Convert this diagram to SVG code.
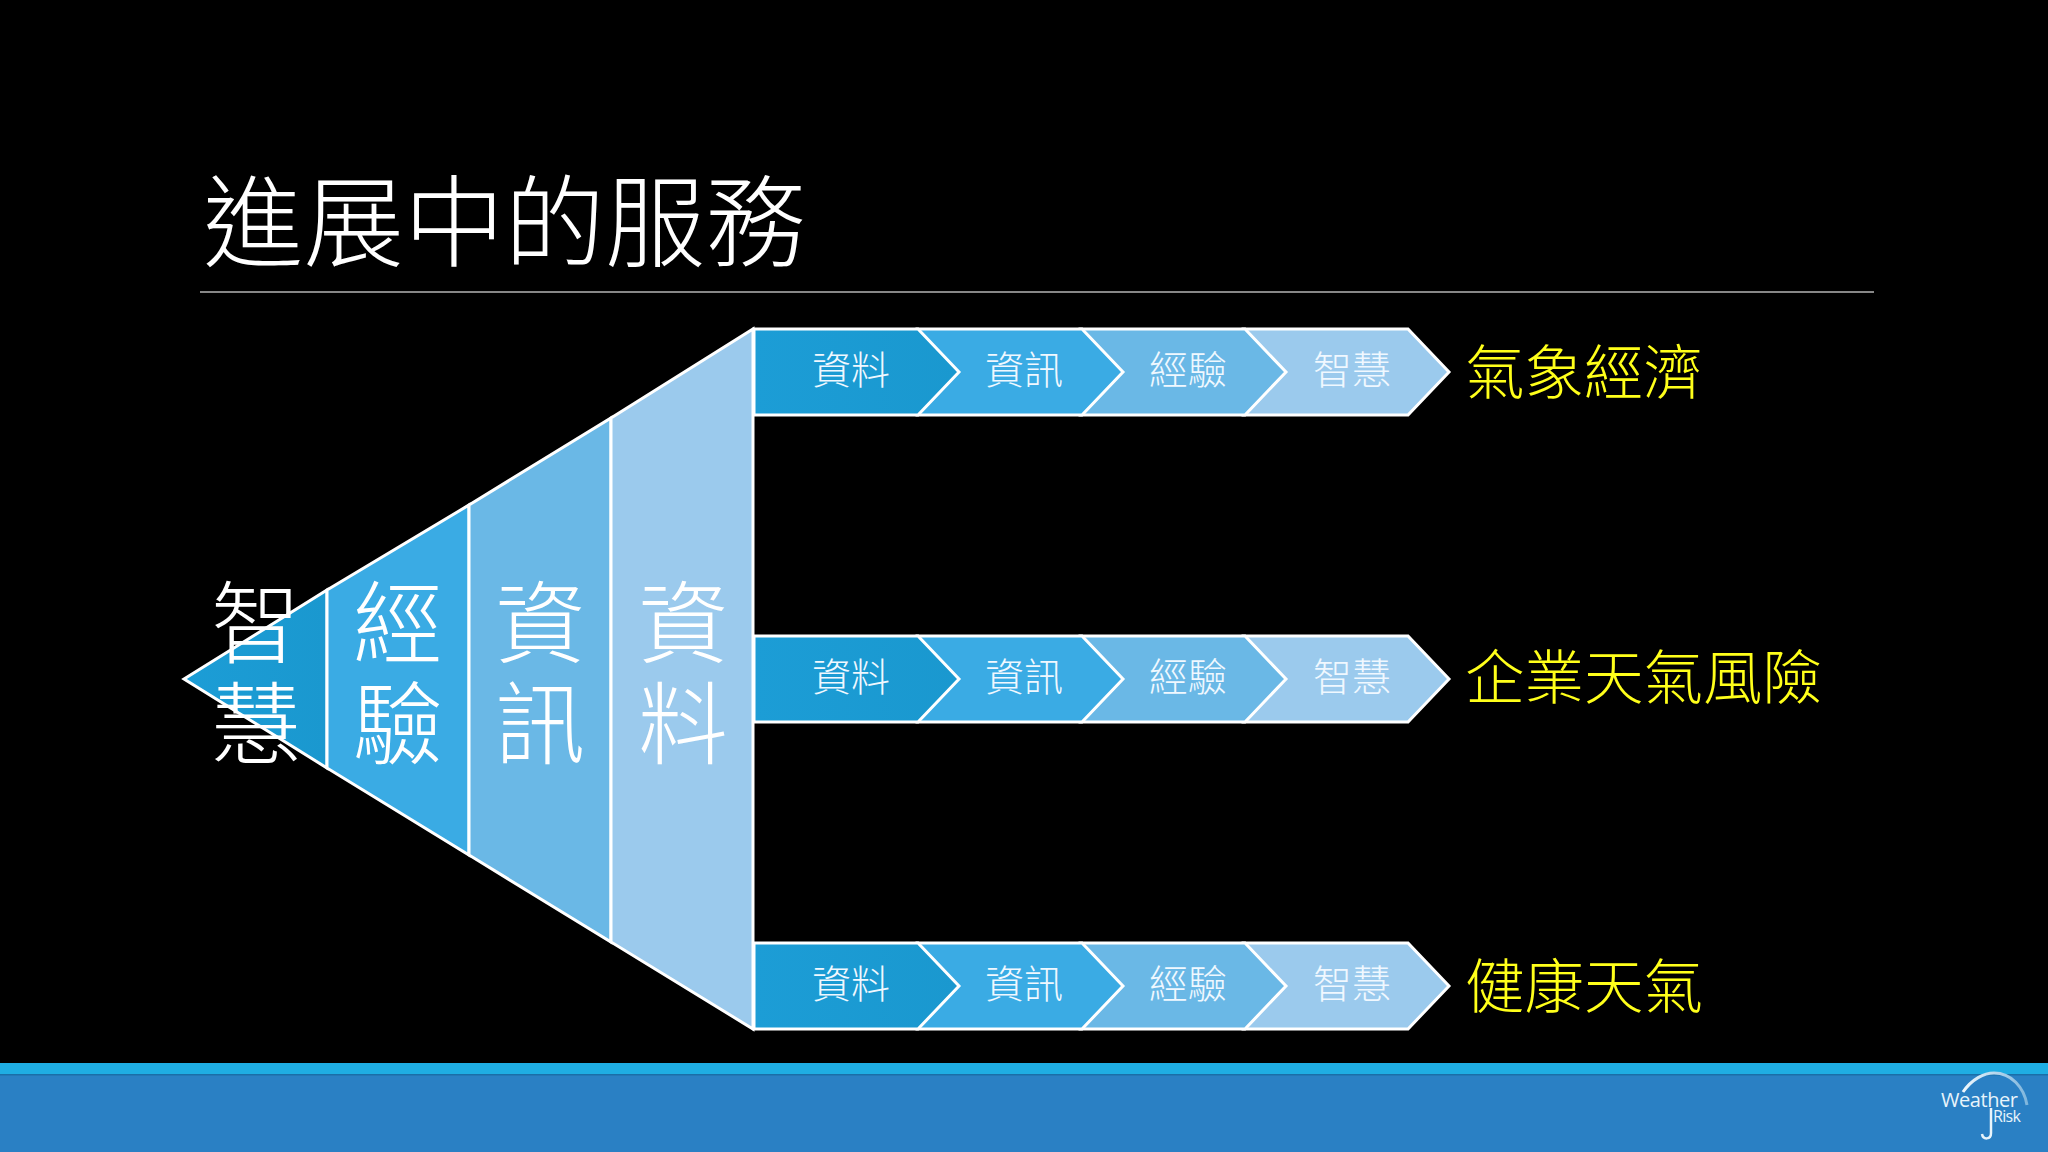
<svg xmlns="http://www.w3.org/2000/svg" width="2048" height="1152" viewBox="0 0 2048 1152">
<defs>
<style>
text{font-family:"Noto Sans CJK TC","Noto Sans CJK SC","Liberation Sans",sans-serif;font-weight:300}
.s{stroke:#fff;stroke-width:3;stroke-linejoin:miter}
.c1{fill:url(#g1)}.c2{fill:#3aabe4}.c3{fill:#6ab8e6}.c4{fill:#9bcaed}
.big{fill:#fff;font-size:90px;text-anchor:middle}
.lab{fill:#f0f8ff;font-size:39px;text-anchor:middle}
.res{fill:#ffff1a;font-size:59.500px}
.lg{fill:#e8f4fb;font-family:"Open Sans","Liberation Sans",sans-serif;font-weight:400}
</style>
<linearGradient id="g1" x1="0" y1="0" x2="1" y2="0"><stop offset="0" stop-color="#1c9dd6"/><stop offset="1" stop-color="#1a98cf"/></linearGradient>
<linearGradient id="arc" x1="0" y1="0" x2="1" y2="0"><stop offset="0" stop-color="#f0f8fd"/><stop offset="1" stop-color="#7fb6dd"/></linearGradient>
<g id="chev">
<path class="s c4" d="M1243 1H1408L1449 44L1408 87H1243Z"/>
<path class="s c3" d="M1080 1H1245L1286 44L1245 87H1080Z"/>
<path class="s c2" d="M917 1H1082L1123 44L1082 87H917Z"/>
<path class="s c1" d="M754 1H918L959 44L918 87H754Z"/>
<text class="lab" x="851" y="56">資料</text>
<text class="lab" x="1024" y="56">資訊</text>
<text class="lab" x="1188" y="56">經驗</text>
<text class="lab" x="1352" y="56">智慧</text>
</g>
</defs>
<rect width="2048" height="1152" fill="#000"/>
<text id="title" x="203" y="259" fill="#fff" font-size="100.500">進展中的服務</text>
<line x1="200" y1="292" x2="1874" y2="292" stroke="#b5b5b5" stroke-width="1.500"/>
<g id="funnel">
<g id="f-wisdom"><path class="s c1" d="M184 679L327 590V768Z"/></g>
<g id="f-experience"><path class="s c2" d="M327 590L469 505V855L327 768Z"/></g>
<g id="f-information"><path class="s c3" d="M469 505L611 418V942L469 855Z"/></g>
<g id="f-data"><path class="s c4" d="M611 418L753 329V1029L611 942Z"/></g>
<text class="big" x="256" y="656">智</text><text class="big" x="256" y="757">慧</text>
<text class="big" x="398" y="656">經</text><text class="big" x="398" y="757">驗</text>
<text class="big" x="540" y="656">資</text><text class="big" x="540" y="757">訊</text>
<text class="big" x="683" y="656">資</text><text class="big" x="683" y="757">料</text>
</g>
<g id="row1"><use href="#chev" y="328"/><text class="res" x="1465" y="394">氣象經濟</text></g>
<g id="row2"><use href="#chev" y="635"/><text class="res" x="1465" y="699">企業天氣風險</text></g>
<g id="row3"><use href="#chev" y="942"/><text class="res" x="1465" y="1008">健康天氣</text></g>
<g id="footer">
<rect y="1063" width="2048" height="89" fill="#2a80c4"/>
<rect y="1063" width="2048" height="11" fill="#1fade3"/>
<rect y="1074" width="2048" height="1.500" fill="#1a6ea8"/>
</g>
<g id="logo" fill="none">
<path d="M1963 1092C1972 1079 1984 1073 1994 1073C2011 1073 2024 1087 2027 1105" stroke="url(#arc)" stroke-width="3"/>
<path d="M1991 1108V1133C1991 1140 1983 1140 1982 1134" stroke="#e8f4fb" stroke-width="2.500"/>
<text class="lg" x="1941" y="1107" font-size="20" textLength="77">Weather</text>
<text class="lg" x="1993" y="1122" font-size="16" textLength="28">Risk</text>
</g>
</svg>
